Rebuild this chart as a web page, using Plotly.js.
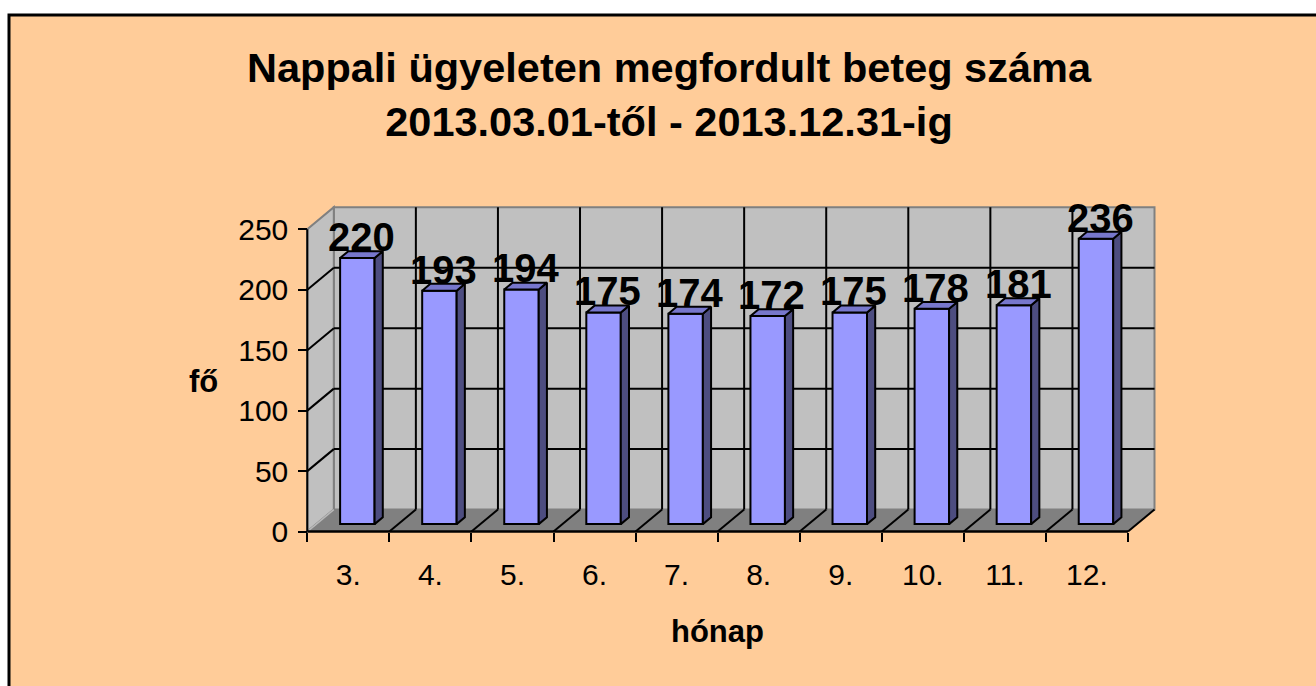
<!DOCTYPE html>
<html>
<head>
<meta charset="utf-8">
<script src="https://cdn.plot.ly/plotly-3.0.1.min.js"></script>
<style>
html,body{margin:0;padding:0;background:#fff;}
#chart{width:1316px;height:686px;}
</style>
</head>
<body>
<div id="chart"></div>
<script>
// ---- data ----
const months = ['3.', '4.', '5.', '6.', '7.', '8.', '9.', '10.', '11.', '12.'];
const patients = [220, 193, 194, 175, 174, 172, 175, 178, 181, 236];
const yTickVals = [0, 50, 100, 150, 200, 250];
const yTickText = ['0', '50', '100', '150', '200', '250'];
const titleText = 'Nappali ügyeleten megfordult beteg száma<br>2013.03.01-től - 2013.12.31-ig';
const xTitle = 'hónap';
const yTitle = 'fő';

// ---- geometry (pixel scale of the axes, 3D depth) ----
const W = 1316, H = 686;
const X0PX = 307.3, KX = 82.07;     // front plane: left boundary px, px per category
const Y0PX = 531.6, KY = 1.2096;    // front plane: zero px, px per unit
const DX = 26.5 / KX, DY = 22 / KY; // full depth offset in axis units
const F0 = 0.34, FD = 0.31, BW = 0.42;
const YMAX = 250;
const n = months.length;
const FONT = 'Liberation Sans, Arial, sans-serif';

const xRange = [-0.5 - X0PX / KX, -0.5 + (W - X0PX) / KX];
const yRange = [-(H - Y0PX) / KY, Y0PX / KY];

const idx = months.map((m, i) => i);
const bx0 = F0 * DX, by0 = F0 * DY, ddx = FD * DX, ddy = FD * DY;

// bar front faces
const frontTrace = {
  type: 'bar', x: idx.map(i => i + bx0), y: patients, base: by0, width: BW,
  marker: {color: '#9999FF', line: {color: '#000', width: 2}},
  hoverinfo: 'skip', showlegend: false
};
// side & top faces built from values
const sx = [], sy = [], tx = [], ty = [];
patients.forEach((v, i) => {
  const xl = i + bx0 - BW / 2, xr = i + bx0 + BW / 2, yt = v + by0;
  sx.push(xr, xr + ddx, xr + ddx, xr, xr, null);
  sy.push(by0, by0 + ddy, yt + ddy, yt, by0, null);
  tx.push(xl, xr, xr + ddx, xl + ddx, xl, null);
  ty.push(yt, yt, yt + ddy, yt + ddy, yt, null);
});
const sideTrace = {type: 'scatter', mode: 'lines', x: sx, y: sy, fill: 'toself', fillcolor: '#4D4D80',
  line: {color: '#000', width: 2}, hoverinfo: 'skip', showlegend: false};
const topTrace = {type: 'scatter', mode: 'lines', x: tx, y: ty, fill: 'toself', fillcolor: '#7777CC',
  line: {color: '#000', width: 2}, hoverinfo: 'skip', showlegend: false};
const tickHolder = {type: 'scatter', mode: 'none', x: [-0.5], y: [0], xaxis: 'x2', hoverinfo: 'skip', showlegend: false};

// ---- shapes: walls, floor, gridlines ----
const P = pts => 'M' + pts.map(p => p[0] + ',' + p[1]).join('L') + 'Z';
const L = -0.5, R = n - 0.5;
const shapes = [];
shapes.push({type: 'rect', xref: 'paper', yref: 'paper', x0: 9 / W, x1: 1.2, y0: -0.2, y1: 1 - 15 / H,
  fillcolor: '#FFCC99', line: {color: '#000', width: 3}, layer: 'below'});
shapes.push({type: 'path', xref: 'x', yref: 'y', layer: 'below', fillcolor: '#C0C0C0', line: {color: '#808080', width: 2},
  path: P([[L + DX, DY], [R + DX, DY], [R + DX, YMAX + DY], [L + DX, YMAX + DY]])});
shapes.push({type: 'path', xref: 'x', yref: 'y', layer: 'below', fillcolor: '#C0C0C0', line: {color: '#808080', width: 2},
  path: P([[L, 0], [L + DX, DY], [L + DX, YMAX + DY], [L, YMAX]])});
shapes.push({type: 'path', xref: 'x', yref: 'y', layer: 'below', fillcolor: '#808080', line: {width: 0},
  path: P([[L, 0], [R, 0], [R + DX, DY], [L + DX, DY]])});
yTickVals.filter(v => v > 0 && v < YMAX).forEach(v => {
  shapes.push({type: 'line', xref: 'x', yref: 'y', layer: 'below', x0: L, y0: v, x1: L + DX, y1: v + DY, line: {color: '#000', width: 2}});
  shapes.push({type: 'line', xref: 'x', yref: 'y', layer: 'below', x0: L + DX, y0: v + DY, x1: R + DX, y1: v + DY, line: {color: '#000', width: 2}});
});
for (let i = 1; i < n; i++) {
  const b = i - 0.5;
  shapes.push({type: 'line', xref: 'x', yref: 'y', layer: 'below', x0: b + DX, y0: DY, x1: b + DX, y1: YMAX + DY, line: {color: '#000', width: 2}});
}
for (let i = 1; i <= n; i++) {
  const b = i - 0.5;
  shapes.push({type: 'line', xref: 'x', yref: 'y', layer: 'below', x0: b, y0: 0, x1: b + DX, y1: DY, line: {color: '#000', width: 2}});
}
shapes.push({type: 'line', xref: 'x', yref: 'y', layer: 'below', x0: L, y0: 0, x1: L + DX, y1: DY, line: {color: '#B8B8B8', width: 1.5}});
shapes.push({type: 'line', xref: 'x', yref: 'y', layer: 'below', x0: L, y0: 0, x1: R, y1: 0, line: {color: '#000', width: 2.5}});
shapes.push({type: 'line', xref: 'x', yref: 'y', layer: 'below', x0: L, y0: 0, x1: L, y1: YMAX, line: {color: '#000', width: 2}});

// ---- data labels ----
const annotations = patients.map((v, i) => ({
  x: i + bx0 + ddx / 2, y: v + by0, xref: 'x', yref: 'y', text: '<b>' + v + '</b>', showarrow: false,
  yanchor: 'middle', xanchor: 'center', yshift: 21,
  font: {family: FONT, size: 40, color: '#000'}
}));
annotations.push({xref: 'paper', yref: 'paper', x: 717 / W, y: 1 - 631 / H, text: '<b>' + xTitle + '</b>',
  showarrow: false, xanchor: 'center', yanchor: 'middle', font: {family: FONT, size: 31, color: '#000'}});
annotations.push({xref: 'paper', yref: 'paper', x: 203 / W, y: 1 - 381 / H, text: '<b>' + yTitle + '</b>',
  showarrow: false, xanchor: 'center', yanchor: 'middle', font: {family: FONT, size: 31, color: '#000'}});

const axisPosX = (H - Y0PX) / H;
const layout = {
  width: W, height: H,
  margin: {l: 0, r: 0, t: 0, b: 0, pad: 0},
  paper_bgcolor: '#FFFFFF', plot_bgcolor: 'rgba(0,0,0,0)',
  showlegend: false, bargap: 0,
  title: {text: '<b>' + titleText + '</b>', font: {family: FONT, size: 41.5, color: '#000'},
    x: 669 / W, xanchor: 'center', xref: 'paper', y: 1 - 82 / H, yanchor: 'top', yref: 'paper'},
  xaxis: {range: xRange, domain: [0, 1], tickmode: 'array', tickvals: idx, ticktext: months,
    ticks: 'outside', ticklen: 8, tickcolor: 'rgba(0,0,0,0)', ticklabelstandoff: 8,
    showgrid: false, zeroline: false, showline: false, anchor: 'free', position: axisPosX,
    tickfont: {family: FONT, size: 30, color: '#000'}, fixedrange: true},
  xaxis2: {range: xRange, overlaying: 'x', anchor: 'free', position: axisPosX, tickmode: 'array',
    tickvals: idx.map(i => i - 0.5).concat([n - 0.5]), ticks: 'outside', ticklen: 9, tickwidth: 2, tickcolor: '#000',
    showticklabels: false, showgrid: false, zeroline: false, showline: false, fixedrange: true},
  yaxis: {range: yRange, domain: [0, 1], tickmode: 'array', tickvals: yTickVals, ticktext: yTickText,
    ticks: 'outside', ticklen: 9, tickwidth: 2, tickcolor: '#000', ticklabelstandoff: 4,
    showgrid: false, zeroline: false, showline: false, anchor: 'free', position: X0PX / W,
    tickfont: {family: FONT, size: 30, color: '#000'}, fixedrange: true},
  shapes: shapes,
  annotations: annotations
};
Plotly.newPlot('chart', [frontTrace, sideTrace, topTrace, tickHolder], layout, {displayModeBar: false, staticPlot: true});
</script>
</body>
</html>
